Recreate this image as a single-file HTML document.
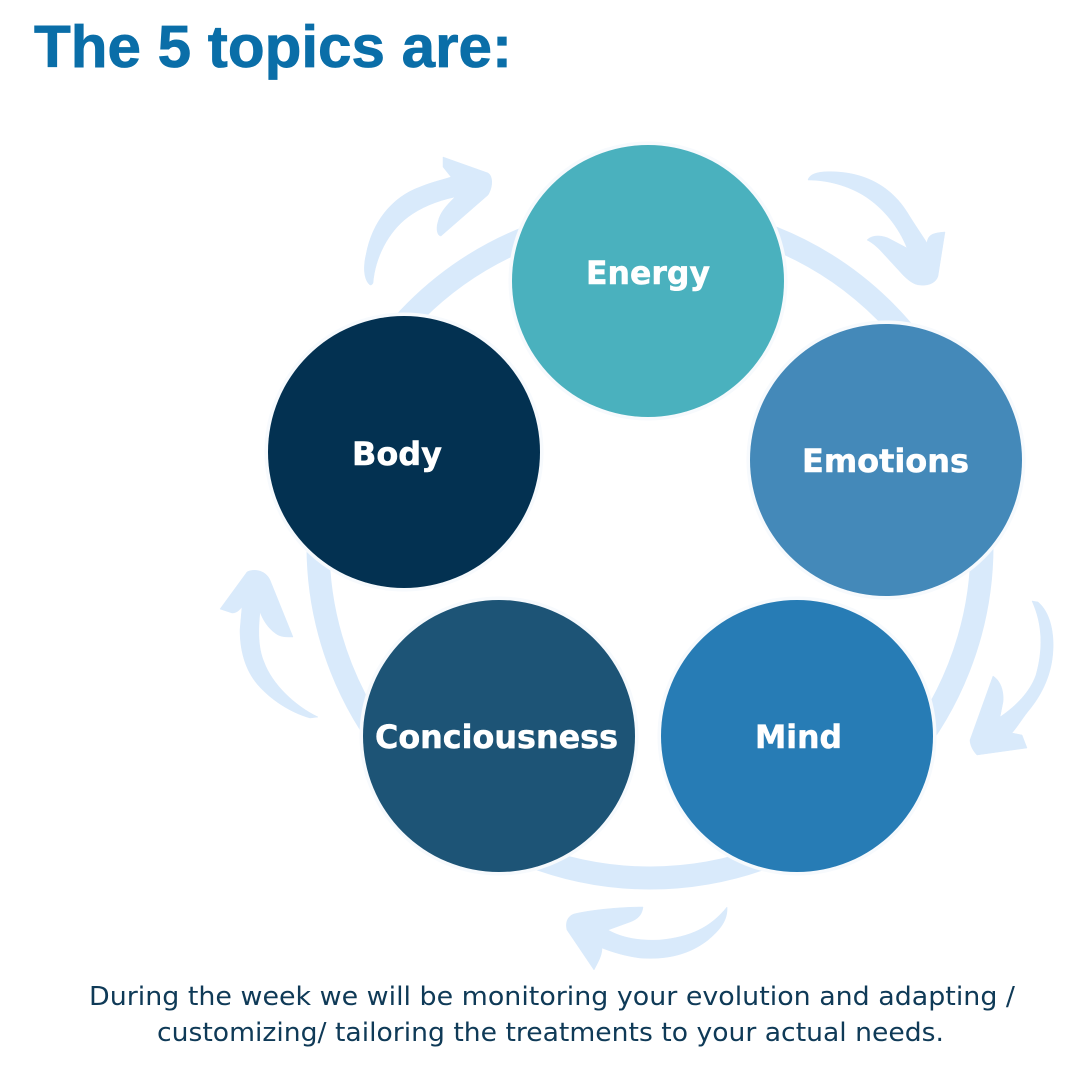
<!DOCTYPE html>
<html><head><meta charset="utf-8"><style>
html,body{margin:0;padding:0;background:#fff;width:1080px;height:1080px;overflow:hidden}
svg{display:block}
.t{font-family:"DejaVu Sans","Liberation Sans",sans-serif;font-weight:bold;fill:#fff;stroke:#fff;stroke-width:.5;font-size:32px}
.b{font-family:"DejaVu Sans","Liberation Sans",sans-serif;fill:#0f3a57;font-size:25.5px}
</style></head><body>
<svg width="1080" height="1080" viewBox="0 0 1080 1080" xmlns="http://www.w3.org/2000/svg">
<rect width="1080" height="1080" fill="#fff"/>
<circle cx="650" cy="546" r="332" fill="none" stroke="#d9eafb" stroke-width="23"/>
<g fill="#d9eafb" stroke="#d9eafb" stroke-width=".5" stroke-linejoin="round">
<path d="M370 285 C364 280 363 268 366 255 C372 222 392 197 420 187 C432 182 442 180 451 177 L443 167 L443 157 L488 173 C493 176 493 187 488 195 L441 236 C437 236 436 228 438 222 C440 212 447 205 455 197 C436 201 420 208 408 217 C388 232 375 258 373 283 C372 285 371 285 370 285 Z"/>
<path d="M808 180 C810 172 824 171 838 172 C868 174 892 188 907 212 C915 225 922 235 927 243 C928 235 932 233 945 232 L938 276 C936 283 928 286 920 285 C914 285 908 280 903 275 L880 250 C875 245 871 242 867 240 C872 235 880 235 888 238 L907 248 C899 228 884 208 863 195 C848 186 828 180 808 180 Z"/>
<path d="M1032 601 L1038 602 C1050 612 1054 632 1053 650 C1052 674 1042 694 1030 709 C1024 716 1018 726 1012 733 L1022 735 L1027 748 L977 755 C973 751 970 745 970 740 L993 676 C1001 681 1004 692 1003 702 L1000 717 C1016 706 1030 692 1036 675 C1043 650 1043 625 1032 601 Z"/>
<path d="M727 907 C728 920 720 930 708 940 C690 954 668 960 640 958 C625 956 612 952 602 948 C602 956 598 962 594 970 L567 930 C565 922 568 916 574 914 C590 910 620 907 643 907 C642 915 638 919 630 922 L608 930 C622 938 640 941 660 940 C690 937 710 928 727 907 Z"/>
<path d="M318 717 L310 718 C292 713 272 701 258 685 C245 670 240 650 240 630 L242 607 C238 612 235 613 232 613 L220 609 L247 572 C252 569 265 569 270 580 L293 637 C285 637 280 637 275 633 C268 628 263 620 260 612 C258 630 258 648 264 662 C272 684 295 706 318 717 Z"/>
</g>
<g stroke="#f7fafd" stroke-width="5" fill="none">
<circle cx="648" cy="281" r="137"/>
<circle cx="886" cy="460" r="137"/>
<circle cx="797" cy="736" r="137"/>
<circle cx="499" cy="736" r="137"/>
<circle cx="404" cy="452" r="137"/>
</g>
<circle cx="648" cy="281" r="136" fill="#4ab1be"/>
<circle cx="886" cy="460" r="136" fill="#4489b9"/>
<circle cx="797" cy="736" r="136" fill="#277cb5"/>
<circle cx="499" cy="736" r="136" fill="#1d5476"/>
<circle cx="404" cy="452" r="136" fill="#033151"/>
<text x="34" y="67" font-family="Liberation Sans, DejaVu Sans, sans-serif" font-weight="bold" font-size="59" fill="#0a6ea8" stroke="#0a6ea8" stroke-width=".8" textLength="478" lengthAdjust="spacingAndGlyphs">The 5 topics are:</text>
<text class="t" x="586" y="284" textLength="124" lengthAdjust="spacingAndGlyphs">Energy</text>
<text class="t" x="802" y="472" textLength="167" lengthAdjust="spacingAndGlyphs">Emotions</text>
<text class="t" x="755" y="748" textLength="87" lengthAdjust="spacingAndGlyphs">Mind</text>
<text class="t" x="375" y="748" textLength="243" lengthAdjust="spacingAndGlyphs">Conciousness</text>
<text class="t" x="352" y="465" textLength="90" lengthAdjust="spacingAndGlyphs">Body</text>
<text class="b" x="89" y="1005" textLength="926" lengthAdjust="spacingAndGlyphs">During the week we will be monitoring your evolution and adapting /</text>
<text class="b" x="157" y="1041" textLength="787" lengthAdjust="spacingAndGlyphs">customizing/ tailoring the treatments to your actual needs.</text>
</svg>
</body></html>
